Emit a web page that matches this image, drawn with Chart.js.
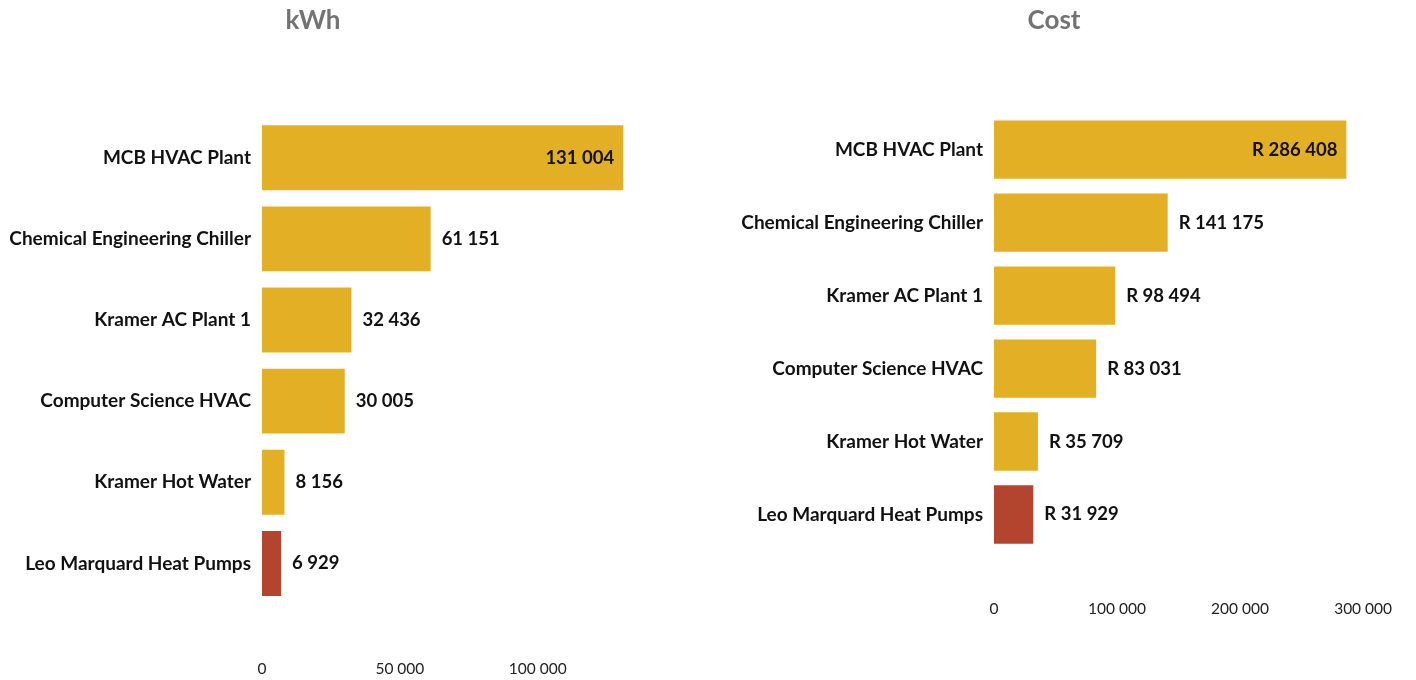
<!DOCTYPE html>
<html>
<head>
<meta charset="utf-8">
<title>kWh and Cost</title>
<script src="https://cdn.jsdelivr.net/npm/chart.js@4"></script>
<style>
  body { margin: 0; background: #fff; }
  .panel { position: absolute; top: 0; width: 708px; height: 680px; }
  #leftPanel { left: 0; }
  #rightPanel { left: 708px; }
</style>
</head>
<body>
<div class="panel" id="leftPanel"><canvas id="kwhChart" width="708" height="680"></canvas></div>
<div class="panel" id="rightPanel"><canvas id="costChart" width="708" height="680"></canvas></div>
<script>
// data
const plants = ["MCB HVAC Plant", "Chemical Engineering Chiller", "Kramer AC Plant 1", "Computer Science HVAC", "Kramer Hot Water", "Leo Marquard Heat Pumps"];
const kwhValues = [131004, 61151, 32436, 30005, 8156, 6929];
const costValues = [286408, 141175, 98494, 83031, 35709, 31929];
const highlighted = "Leo Marquard Heat Pumps";
const kwhTicks = [0, 50000, 100000];
const costTicks = [0, 100000, 200000, 300000];

const GOLD = "#e3af25";
const RED = "#b3442e";
const FONT = "Lato, 'Open Sans', sans-serif";

function spaced(n) {
    return String(Math.round(n)).replace(/\B(?=(\d{3})+(?!\d))/g, " ");
}

// draws the number at the end of each bar, inside for the longest one
const barLabels = {
    id: "barLabels",
    afterDatasetsDraw(chart, args, opts) {
        const ctx = chart.ctx;
        const meta = chart.getDatasetMeta(0);
        const values = chart.data.datasets[0].data;
        const max = Math.max(...values);
        ctx.save();
        ctx.font = "bold 18.5px " + FONT;
        ctx.fillStyle = "#111";
        ctx.textBaseline = "middle";
        meta.data.forEach((bar, i) => {
            const text = opts.prefix + spaced(values[i]);
            if (values[i] / max > 0.8) {
                ctx.textAlign = "right";
                ctx.fillText(text, bar.x - 9, bar.y);
            } else {
                ctx.textAlign = "left";
                ctx.fillText(text, bar.x + 11, bar.y);
            }
        });
        ctx.restore();
    }
};

function makeChart(id, title, values, tickList, cfg) {
    const colors = plants.map(p => p === highlighted ? RED : GOLD);
    return new Chart(document.getElementById(id), {
        type: "bar",
        data: {
            labels: plants,
            datasets: [{
                data: values,
                backgroundColor: colors,
                borderWidth: 0,
                barPercentage: 0.8,
                categoryPercentage: 1
            }]
        },
        options: {
            indexAxis: "y",
            responsive: false,
            animation: false,
            layout: { padding: { left: 0, right: cfg.padRight, top: 0, bottom: 0 } },
            plugins: {
                legend: { display: false },
                tooltip: { enabled: false },
                title: {
                    display: true,
                    text: title,
                    color: "#737373",
                    font: { family: FONT, size: 26, weight: "bold" },
                    padding: { top: 5, bottom: cfg.titleGap }
                },
                barLabels: { prefix: cfg.prefix }
            },
            scales: {
                x: {
                    min: 0,
                    max: cfg.max,
                    afterFit: s => {
                        s.height = cfg.xHeight;
                        s.paddingLeft = 0;
                        s.paddingRight = 0;
                    },
                    afterBuildTicks: s => { s.ticks = tickList.map(v => ({ value: v })); },
                    grid: { display: false, drawTicks: false },
                    border: { display: false },
                    ticks: {
                        padding: cfg.xPad,
                        color: "#222",
                        font: { family: FONT, size: 15.5 },
                        callback: v => spaced(v)
                    }
                },
                y: {
                    afterFit: s => { s.width = cfg.yWidth; },
                    grid: { display: false, drawTicks: false },
                    border: { display: false },
                    ticks: {
                        padding: 11,
                        color: "#111",
                        font: { family: FONT, size: 19, weight: "bold" }
                    }
                }
            }
        },
        plugins: [barLabels]
    });
}

makeChart("kwhChart", "kWh", kwhValues, kwhTicks, {
    prefix: "", max: 132000, padRight: 82, yWidth: 262,
    xHeight: 76, xPad: 56, titleGap: 81
});
makeChart("costChart", "Cost", costValues, costTicks, {
    prefix: "R ", max: 330000, padRight: 16, yWidth: 286,
    xHeight: 129, xPad: 49, titleGap: 77
});
</script>
</body>
</html>
